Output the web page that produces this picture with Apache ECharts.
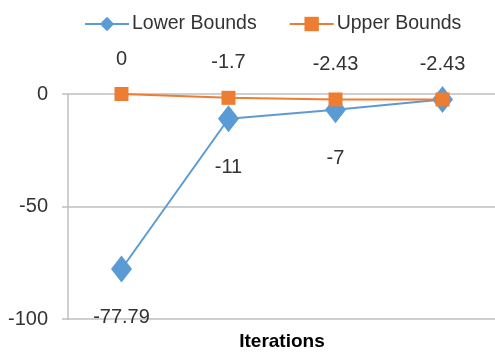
<!DOCTYPE html>
<html>
<head>
<meta charset="utf-8">
<script src="https://cdn.jsdelivr.net/npm/echarts@6/dist/echarts.min.js"></script>
<style>
  html, body { margin: 0; padding: 0; background: #fff; }
  #chart { width: 495px; height: 355px; }
</style>
</head>
<body>
<div id="chart"></div>
<script>
// Iteration steps (category axis, labels hidden)
const iterations = ['1', '2', '3', '4'];
// Bound values per iteration
const lowerBounds = [-77.79, -11, -7, -2.43];
const upperBounds = [0, -1.7, -2.43, -2.43];
// Which lower-bound points carry a value label
const lowerLabelShown = [true, true, true, false];
// Value axis ticks
const yMin = -100;
const yMax = 0;
const yStep = 50;

const FONT = '"Liberation Sans", Arial, sans-serif';
const TEXT = '#333333';
const GRID = '#bfbfbf';

const chart = echarts.init(document.getElementById('chart'), null, { renderer: 'canvas' });

chart.setOption({
  animation: false,
  textStyle: { fontFamily: FONT },
  legend: {
    top: 9,
    left: 79,
    itemWidth: 44,
    itemHeight: 18,
    itemGap: 32,
    textStyle: { fontFamily: FONT, fontSize: 19.5, color: TEXT, padding: [0, 0, 0, -2] },
    data: ['Lower Bounds', 'Upper Bounds']
  },
  grid: { left: 68, right: -1, top: 94, bottom: 36, containLabel: false, outerBoundsMode: 'none' },
  xAxis: {
    type: 'category',
    data: iterations,
    boundaryGap: true,
    name: 'Iterations',
    nameLocation: 'middle',
    nameGap: 13,
    nameTextStyle: { fontFamily: FONT, fontSize: 19, fontWeight: 'bold', color: '#000', verticalAlign: 'top' },
    axisLine: { show: false, onZero: false },
    axisTick: { show: false },
    axisLabel: { show: false },
    splitLine: { show: false }
  },
  yAxis: {
    type: 'value',
    min: yMin,
    max: yMax,
    interval: yStep,
    axisLine: { show: true, lineStyle: { color: GRID, width: 1.5 } },
    axisTick: { show: true, length: 6, lineStyle: { color: GRID, width: 1.5 } },
    axisLabel: { fontFamily: FONT, fontSize: 20, color: TEXT, margin: 20 },
    splitLine: { show: true, lineStyle: { color: GRID, width: 1.5 } }
  },
  series: [
    {
      name: 'Lower Bounds',
      type: 'line',
      data: lowerBounds.map((v, i) => ({
        value: v,
        label: { show: lowerLabelShown[i] }
      })),
      symbol: 'diamond',
      symbolSize: [21, 27],
      itemStyle: { color: '#5b9bd5' },
      lineStyle: { color: '#5b9bd5', width: 2 },
      z: 2,
      label: {
        show: true,
        position: 'bottom',
        distance: 25,
        fontFamily: FONT,
        fontSize: 20,
        color: TEXT
      }
    },
    {
      name: 'Upper Bounds',
      type: 'line',
      data: upperBounds,
      symbol: 'rect',
      symbolSize: 14,
      itemStyle: { color: '#ed7d31' },
      lineStyle: { color: '#ed7d31', width: 2 },
      z: 3,
      label: {
        show: true,
        position: 'top',
        distance: 18,
        fontFamily: FONT,
        fontSize: 20,
        color: TEXT
      }
    }
  ]
});
</script>
</body>
</html>
